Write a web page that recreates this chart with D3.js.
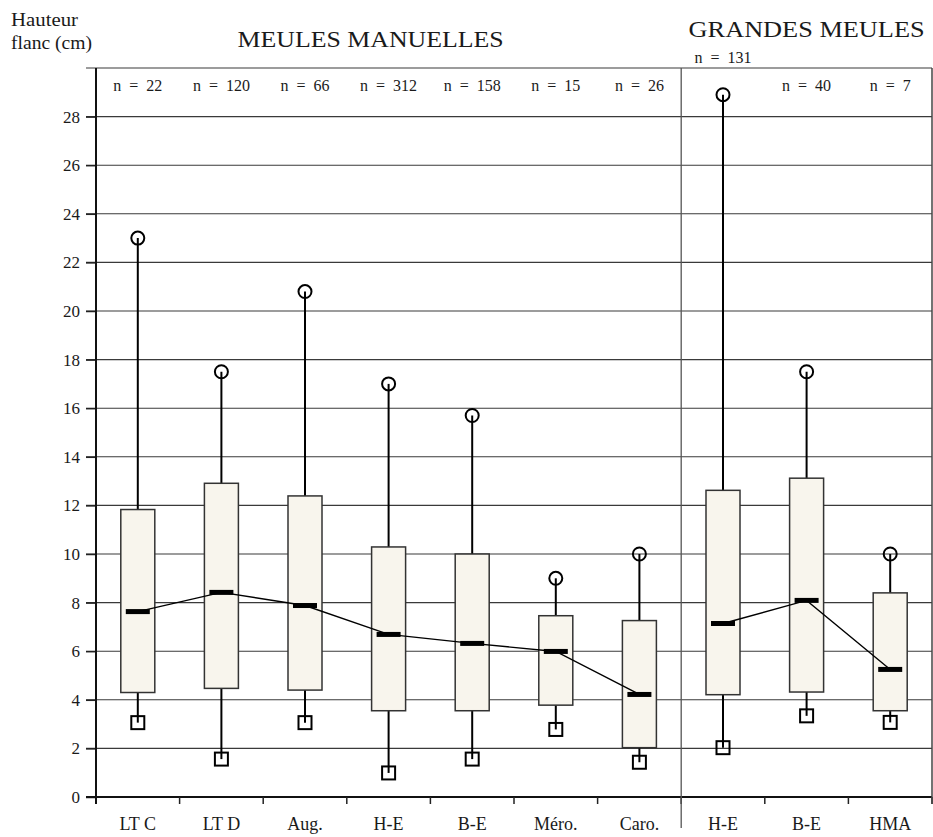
<!DOCTYPE html>
<html>
<head>
<meta charset="utf-8">
<script src="https://cdn.jsdelivr.net/npm/d3@7/dist/d3.min.js"></script>
<style>
  html, body { margin: 0; padding: 0; background: #ffffff; }
  svg { display: block; }
  svg text { font-family: "Liberation Serif", "Times New Roman", serif !important; fill: #1a1a1a; }
</style>
</head>
<body>
<svg id="chart" width="933" height="837" font-family="Liberation Serif, serif"></svg>
<script>
// ---- data ----
const categories = ["LT C", "LT D", "Aug.", "H-E", "B-E", "Méro.", "Caro.", "H-E", "B-E", "HMA"];
const groupOf    = [0, 0, 0, 0, 0, 0, 0, 1, 1, 1];
const nValues    = [22, 120, 66, 312, 158, 15, 26, 131, 40, 7];
const maxValues  = [23.0, 17.5, 20.8, 17.0, 15.7, 9.0, 10.0, 28.9, 17.5, 10.0];
const q3Values   = [11.83, 12.91, 12.39, 10.29, 10.0, 7.46, 7.26, 12.62, 13.12, 8.40];
const medValues  = [7.63, 8.42, 7.88, 6.69, 6.32, 5.99, 4.22, 7.14, 8.09, 5.25];
const q1Values   = [4.30, 4.47, 4.40, 3.55, 3.55, 3.78, 2.03, 4.21, 4.32, 3.55];
const minValues  = [3.06, 1.56, 3.06, 0.99, 1.56, 2.78, 1.43, 2.03, 3.34, 3.07];
const yTicks     = [0, 2, 4, 6, 8, 10, 12, 14, 16, 18, 20, 22, 24, 26, 28];
const groupTitles = ["MEULES MANUELLES", "GRANDES MEULES"];
const yTitle = ["Hauteur", "flanc (cm)"];

(function () {
const FONT = "'Liberation Serif', 'Times New Roman', serif";
const pLeft = 96, pRight = 932, pTop = 68, pBottom = 797;
const svg = d3.select("#chart");

const idx = categories.map((d, i) => i);
const x = d3.scaleBand().domain(idx).range([pLeft, pRight]).padding(0);
const y = d3.scaleLinear().domain([0, 30]).range([pBottom, pTop]);
const bw = x.bandwidth();
const cx = i => x(i) + bw / 2;

// gridlines
const gridVals = yTicks.filter(v => v > 0).concat([30]);
svg.append("g").selectAll("line").data(gridVals).join("line")
  .attr("x1", pLeft - 10).attr("x2", pRight)
  .attr("y1", d => y(d)).attr("y2", d => y(d))
  .attr("stroke", "#3a3a3a").attr("stroke-width", 1.1);

// y axis
const yAxis = svg.append("g").attr("transform", `translate(${pLeft},0)`)
  .call(d3.axisLeft(y).tickValues(yTicks).tickSize(10).tickPadding(6).tickFormat(d3.format("d")));
yAxis.attr("font-family", FONT);
yAxis.select(".domain").remove();
yAxis.selectAll(".tick line").attr("stroke", "#222").attr("stroke-width", 1.5);
yAxis.selectAll(".tick text").attr("font-size", 17).attr("fill", "#222")
  .style("font-family", FONT);
svg.append("line").attr("x1", pLeft).attr("x2", pLeft).attr("y1", pTop).attr("y2", pBottom + 7)
  .attr("stroke", "#111").attr("stroke-width", 2);

// x axis
svg.append("line").attr("x1", pLeft - 10).attr("x2", pRight).attr("y1", pBottom).attr("y2", pBottom)
  .attr("stroke", "#111").attr("stroke-width", 2);
const edges = idx.slice(1).map(i => x(i)).concat([pRight]);
svg.append("g").selectAll("line").data(edges).join("line")
  .attr("x1", d => d).attr("x2", d => d)
  .attr("y1", pBottom).attr("y2", pBottom + 7)
  .attr("stroke", "#222").attr("stroke-width", 1.5);
svg.append("line").attr("x1", pRight).attr("x2", pRight).attr("y1", pTop).attr("y2", pBottom + 7)
  .attr("stroke", "#444").attr("stroke-width", 1.5);
const divX = x(groupOf.indexOf(1));
svg.append("line").attr("x1", divX).attr("x2", divX).attr("y1", pTop).attr("y2", 828)
  .attr("stroke", "#555").attr("stroke-width", 1.3);

// category labels
svg.append("g").selectAll("text").data(idx).join("text")
  .attr("x", i => cx(i)).attr("y", 830)
  .attr("text-anchor", "middle").attr("font-size", 18)
  .style("font-family", FONT)
  .text(i => categories[i]);

// boxes
const boxW = 34;
const g = svg.append("g");
g.selectAll("line.wu").data(idx).join("line").attr("class", "wu")
  .attr("x1", cx).attr("x2", cx)
  .attr("y1", i => y(q3Values[i])).attr("y2", i => y(maxValues[i]))
  .attr("stroke", "#000").attr("stroke-width", 2);
g.selectAll("line.wl").data(idx).join("line").attr("class", "wl")
  .attr("x1", cx).attr("x2", cx)
  .attr("y1", i => y(q1Values[i])).attr("y2", i => y(minValues[i]))
  .attr("stroke", "#000").attr("stroke-width", 2);
g.selectAll("rect.box").data(idx).join("rect").attr("class", "box")
  .attr("x", i => cx(i) - boxW / 2).attr("width", boxW)
  .attr("y", i => y(q3Values[i])).attr("height", i => y(q1Values[i]) - y(q3Values[i]))
  .attr("fill", "#f8f5ed").attr("stroke", "#333").attr("stroke-width", 1.5);
g.selectAll("circle").data(idx).join("circle")
  .attr("cx", cx).attr("cy", i => y(maxValues[i])).attr("r", 6.5)
  .attr("fill", "none").attr("stroke", "#000").attr("stroke-width", 2);
const sq = 13;
g.selectAll("rect.min").data(idx).join("rect").attr("class", "min")
  .attr("x", i => cx(i) - sq / 2).attr("y", i => y(minValues[i]) - sq / 2)
  .attr("width", sq).attr("height", sq)
  .attr("fill", "none").attr("stroke", "#000").attr("stroke-width", 2);

// median connecting lines per group
[0, 1].forEach(grp => {
  const ids = idx.filter(i => groupOf[i] === grp);
  const line = d3.line().x(i => cx(i)).y(i => y(medValues[i]));
  svg.append("path").datum(ids).attr("d", line)
    .attr("fill", "none").attr("stroke", "#000").attr("stroke-width", 1.4);
});
svg.append("g").selectAll("rect").data(idx).join("rect")
  .attr("x", i => cx(i) - 12).attr("y", i => y(medValues[i]) - 2.5)
  .attr("width", 24).attr("height", 5).attr("fill", "#000");

// n labels
svg.append("g").selectAll("text").data(idx).join("text")
  .attr("x", i => cx(i))
  .attr("y", i => maxValues[i] > 28 ? 63 : 91)
  .attr("text-anchor", "middle").attr("font-size", 16)
  .attr("word-spacing", "4px")
  .style("font-family", FONT)
  .text(i => "n = " + nValues[i]);

// group titles
[0, 1].forEach(grp => {
  const ids = idx.filter(i => groupOf[i] === grp);
  svg.append("text")
    .attr("x", grp === 0 ? (x(ids[0]) + x(ids[ids.length - 1]) + bw) / 2 - 18 : (x(ids[0]) + pRight) / 2)
    .attr("y", grp === 0 ? 47 : 37)
    .attr("text-anchor", "middle").attr("font-size", 24)
    .attr("textLength", grp === 0 ? 266 : 236).attr("lengthAdjust", "spacingAndGlyphs")
    .style("font-family", FONT)
    .text(groupTitles[grp]);
});

// y title
svg.append("text").attr("x", 11).attr("y", 26).attr("font-size", 18)
  .style("font-family", FONT)
  .attr("textLength", 67).attr("lengthAdjust", "spacingAndGlyphs").text(yTitle[0]);
svg.append("text").attr("x", 11).attr("y", 49).attr("font-size", 18)
  .style("font-family", FONT)
  .attr("textLength", 81).attr("lengthAdjust", "spacingAndGlyphs").text(yTitle[1]);
})();
</script>
</body>
</html>
